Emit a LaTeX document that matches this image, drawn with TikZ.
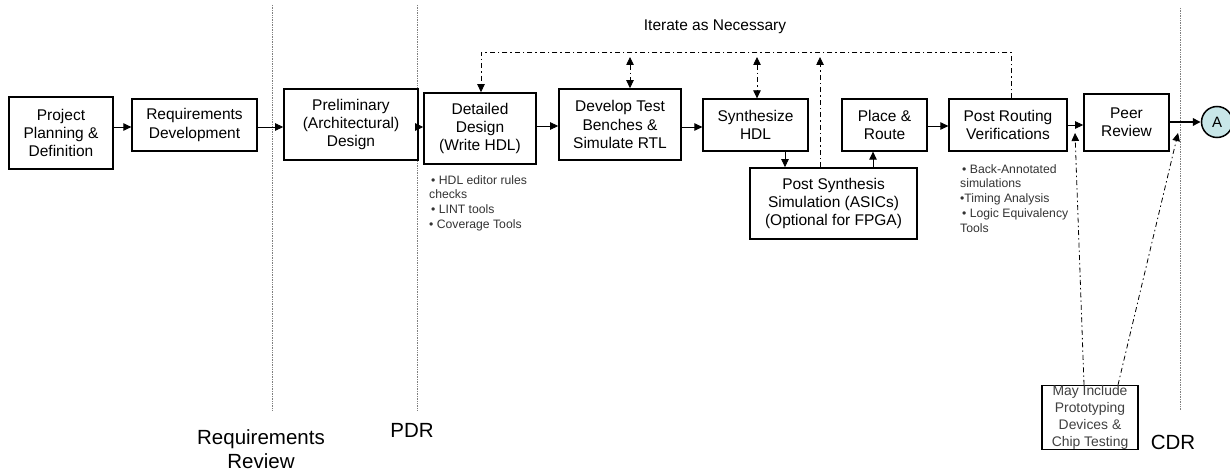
\documentclass[tikz,border=0pt]{standalone}
\usepackage{fontspec}
\setmainfont{Liberation Sans}
\usetikzlibrary{arrows.meta,calc}
\definecolor{circfill}{RGB}{200,230,232}
\begin{document}
\begin{tikzpicture}[x=1pt,y=-1pt,
  box/.style={draw,line width=1.3pt,align=center,inner sep=1pt,font=\fontsize{15.5}{18.3}\selectfont},
  thick box/.style={box,line width=1.7pt},
  arr/.style={-{Triangle[length=8pt,width=7.5pt]},line width=0.8pt},
  darr/.style={{Triangle[length=8pt,width=7.5pt]}-{Triangle[length=8pt,width=7.5pt]},line width=0.8pt},
  dd/.style={line width=1.5pt,dash pattern=on 5pt off 3pt on 1.5pt off 3pt},
  milestone/.style={gray,line width=0.7pt,densely dotted},
  note/.style={align=left,anchor=north west,inner sep=0pt,font=\fontsize{12.2}{14.8}\selectfont,text=black!80},
  lbl/.style={font=\fontsize{20.5}{24}\selectfont,align=center}]
\useasboundingbox (0,0) rectangle (1230,473);
% milestone lines
\coordinate (m1t) at (272,5); \coordinate (m1b) at (272,410);
\coordinate (m2t) at (417,5); \coordinate (m2b) at (417,410);
\coordinate (m3t) at (1180,8); \coordinate (m3b) at (1180,410);
\draw[milestone] (m1t) -- (m1b);
\draw[milestone] (m2t) -- (m2b);
\draw[milestone] (m3t) -- (m3b);
% boxes
\node[box,minimum width=104,minimum height=72] (ppd) at (61,133) {Project\\Planning \&\\Definition};
\node[box,minimum width=125,minimum height=52] (rd) at (194.5,125) {Requirements\\Development};
\node[thick box,minimum width=134,minimum height=71] (pre) at (351,124.5) {Preliminary\\(Architectural)\\Design};
\node[thick box,minimum width=112,minimum height=71] (dd1) at (480,128.5) {Detailed\\Design\\(Write HDL)};
\node[thick box,minimum width=122,minimum height=71] (dtb) at (620,124.5) {Develop Test\\Benches \&\\Simulate RTL};
\node[box,minimum width=105,minimum height=52] (syn) at (755.5,125) {Synthesize\\HDL};
\node[thick box,minimum width=167,minimum height=71] (pss) at (833.5,203.5) {Post Synthesis\\Simulation (ASICs)\\(Optional for FPGA)};
\node[box,minimum width=85,minimum height=52] (pr) at (884.5,125) {Place \&\\Route};
\node[box,minimum width=118,minimum height=52] (prv) at (1008,125) {Post Routing\\Verifications};
\node[thick box,minimum width=85,minimum height=57] (peer) at (1126.5,122.5) {Peer\\Review};
\node[draw,circle,line width=1.5pt,fill=circfill,minimum size=31,inner sep=0pt,font=\fontsize{15}{17}\selectfont] (A) at (1217,122) {A};
\node[draw,line width=1.2pt,minimum width=96,minimum height=63,align=center,inner sep=0pt,font=\fontsize{13.9}{17}\selectfont,text=black!75] (may) at (1090,417.5) {May Include\\Prototyping\\Devices \&\\Chip Testing};
% main flow
\draw[arr] (ppd.east|-0,127) -- (rd.west|-0,127);
\draw[arr] (rd.east|-0,127) -- (pre.west|-0,127);
\draw[arr] (pre.east|-0,127) -- (dd1.west|-0,127);
\draw[arr] (dd1.east|-0,126) -- (dtb.west|-0,126);
\draw[arr] (dtb.east|-0,127) -- (syn.west|-0,127);
\draw[arr] (syn.south-|785,0) -- (pss.north-|785,0);
\draw[arr] (pss.north-|873,0) -- (pr.south-|873,0);
\draw[arr] (pr.east|-0,126) -- (prv.west|-0,126);
\draw[arr] (prv.east|-0,125) -- (peer.west|-0,125);
\draw[arr,line width=1.8pt] (peer.east|-0,122) -- (A.west);
% iterate loop
\coordinate (itR) at (1011,52);
\coordinate (itL) at (481,52);
\draw[dd,arr] (prv.north-|itR) -- (itR) -- (itL) -- (dd1.north-|itL);
\draw[dd,darr] (630,57) -- (dtb.north-|630,0);
\draw[dd,darr] (757,57) -- (syn.north-|757,0);
\draw[dd,arr] (pss.north-|820,0) -- (820,57);
\node[font=\fontsize{15.5}{18}\selectfont] (it) at (715,27) {Iterate as Necessary};
% from prototyping box
\coordinate (p1) at (1075,133);
\coordinate (p2) at (1178,133);
\draw[dd,arr] (may.north-|1084,0) -- (p1);
\draw[dd,arr] (may.north-|1118,0) -- (p2);
% notes
\node[note] (n1) at (429,175) {\,• HDL editor rules\\checks\\\,• LINT tools\\• Coverage Tools};
\node[note] (n2) at (960,164) {\,• Back-Annotated\\simulations\\•Timing Analysis\\\,• Logic Equivalency\\Tools};
% milestone labels
\node[lbl] (rr) at (261,449) {Requirements\\Review};
\node[lbl] (pdr) at (412,430) {PDR};
\node[lbl] (cdr) at (1173,442) {CDR};
\end{tikzpicture}
\end{document}
